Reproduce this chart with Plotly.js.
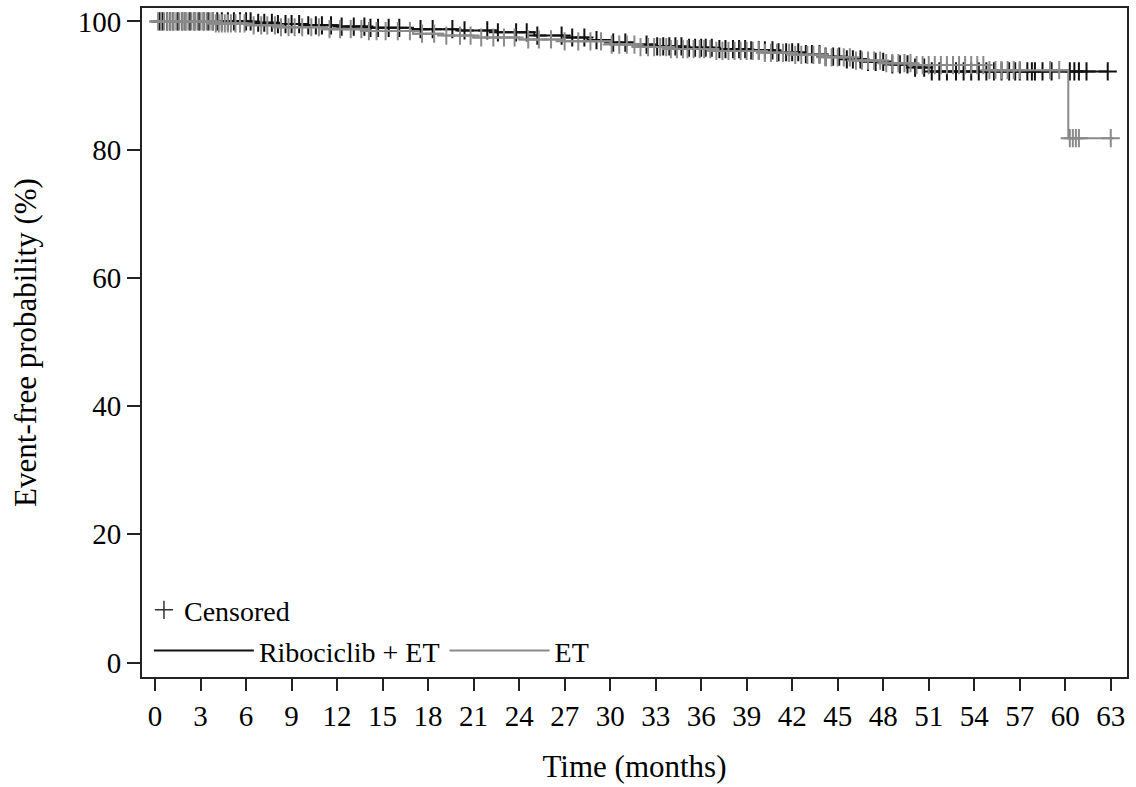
<!DOCTYPE html>
<html>
<head>
<meta charset="utf-8">
<script src="https://cdn.plot.ly/plotly-3.0.1.min.js"></script>
<style>
  html, body { margin: 0; padding: 0; background: #fff; }
  #chart { width: 1136px; height: 787px; }
</style>
</head>
<body>
<div id="chart"></div>
<script>
// Kaplan-Meier step data (time in months, event-free probability in %)
const riboTimes = [0, 6.5, 8, 10, 12, 14, 17, 20, 22.5, 25, 27, 28.5, 30, 31.5, 33, 35, 37, 39, 41, 42.5, 44, 45.5, 47, 48.5, 50, 51, 62.8];
const riboSurv  = [100, 99.8, 99.6, 99.4, 99.2, 99.0, 98.8, 98.6, 98.3, 97.8, 97.5, 97.1, 96.7, 96.4, 96.1, 95.9, 95.7, 95.5, 95.2, 94.9, 94.5, 94.1, 93.7, 93.3, 92.8, 92.2, 92.2];

const etTimes = [0, 4, 6, 8, 11, 14, 17, 19, 21, 24, 27, 30, 32, 34, 37, 40, 42, 44, 46, 48, 50, 55, 60.2, 63.2];
const etSurv  = [100, 99.7, 99.4, 99.1, 98.8, 98.5, 98.1, 97.8, 97.5, 97.2, 96.9, 96.4, 96.0, 95.7, 95.4, 95.1, 94.8, 94.4, 93.9, 93.5, 93.2, 92.4, 81.8, 81.8];

// Censoring times
const riboCensored = [0.3,0.5,0.8,1.0,1.2,1.5,1.8,2.0,2.3,2.6,2.9,3.2,3.5,3.8,4.1,4.4,4.8,5.2,5.6,6.0,6.3,6.8,7.2,7.7,8.1,8.6,9.0,9.5,10.1,10.6,11.0,11.6,12.3,13.1,13.8,14.2,14.7,15.4,16.1,17.5,18.3,19.6,20.4,21.9,22.6,23.8,24.5,25.2,26.8,27.5,28.3,29.1,30.2,31.0,32.4,33.1,33.5,33.9,34.3,34.7,35.2,35.6,36.0,36.3,36.7,37.2,37.6,38.1,38.5,38.9,39.3,39.8,40.2,40.7,41.1,41.6,42.0,42.4,42.9,43.3,43.8,44.2,44.7,45.1,45.6,46.0,46.5,47.0,47.5,48.0,48.6,49.1,49.6,50.1,50.7,51.2,51.7,52.2,52.8,53.3,53.8,54.3,54.8,55.3,55.8,56.3,56.7,57.0,57.5,57.8,58.0,58.5,59.1,60.3,60.6,60.9,61.4,62.8];
const etCensored = [0.2,0.4,0.6,0.8,1.0,1.2,1.4,1.6,1.8,2.0,2.2,2.4,2.6,2.8,3.0,3.2,3.4,3.6,3.8,4.0,4.2,4.4,4.6,4.8,5.0,5.3,5.6,5.9,6.5,7.0,7.4,7.9,8.3,8.8,9.2,9.7,10.3,10.8,11.5,12.2,12.9,13.6,14.1,14.6,15.2,16.0,16.8,17.6,18.4,19.2,20.1,20.8,21.5,22.3,23.0,23.7,24.6,25.3,26.1,27.0,27.9,28.7,29.4,30.1,30.6,31.1,31.6,32.0,32.5,32.9,33.3,33.7,34.0,34.4,34.8,35.1,35.5,35.9,36.2,36.6,37.0,37.4,37.8,38.2,38.6,39.0,39.4,39.8,40.2,40.6,41.0,41.4,41.8,42.2,42.6,43.0,43.4,43.8,44.2,44.6,45.0,45.4,45.8,46.2,46.6,47.0,47.4,47.8,48.2,48.6,49.0,49.4,49.8,50.2,50.6,51.0,51.4,51.8,52.2,52.6,53.0,53.4,53.8,54.2,54.6,55.0,55.4,55.8,56.2,56.6,57.0,59.0,59.6,60.3,60.5,60.7,60.9,63.0];

const xTicks = [0,3,6,9,12,15,18,21,24,27,30,33,36,39,42,45,48,51,54,57,60,63];
const yTicks = [0,20,40,60,80,100];

const seriesNames = ['Ribociclib + ET', 'ET'];
const censorLabel = 'Censored';

function stepValue(times, surv, t) {
  let v = surv[0];
  for (let i = 0; i < times.length; i++) { if (times[i] <= t) v = surv[i]; }
  return v;
}

const BLACK = '#111111';
const GRAY = '#8a8a8a';
const FONT = 'Liberation Serif, Times New Roman, serif';

const traces = [
  {
    x: riboTimes, y: riboSurv, type: 'scatter', mode: 'lines',
    line: { shape: 'hv', color: BLACK, width: 2 },
    name: seriesNames[0], legend: 'legend2', hoverinfo: 'skip'
  },
  {
    x: riboCensored, y: riboCensored.map(t => stepValue(riboTimes, riboSurv, t)),
    type: 'scatter', mode: 'markers', showlegend: false,
    marker: { symbol: 'cross-thin', size: 13, line: { color: BLACK, width: 2 } }
  },
  {
    x: etTimes, y: etSurv, type: 'scatter', mode: 'lines',
    line: { shape: 'hv', color: GRAY, width: 2 },
    name: seriesNames[1], legend: 'legend2', hoverinfo: 'skip'
  },
  {
    x: etCensored, y: etCensored.map(t => stepValue(etTimes, etSurv, t)),
    type: 'scatter', mode: 'markers', showlegend: false,
    marker: { symbol: 'cross-thin', size: 13, line: { color: GRAY, width: 2 } }
  },
  {
    x: [null], y: [null], type: 'scatter', mode: 'markers',
    name: censorLabel, legend: 'legend',
    marker: { symbol: 'cross-thin', size: 13, line: { color: '#333333', width: 1.5 } }
  }
];

const layout = {
  width: 1136, height: 787,
  margin: { l: 142, r: 9, t: 8, b: 110 },
  paper_bgcolor: '#ffffff', plot_bgcolor: '#ffffff',
  font: { family: FONT, size: 29, color: '#000' },
  showlegend: true,
  xaxis: {
    range: [-0.86, 64.07], tickvals: xTicks, ticktext: xTicks.map(String),
    ticks: 'outside', ticklen: 12, tickwidth: 2, tickcolor: '#222',
    showline: true, linecolor: '#222', linewidth: 2, mirror: true,
    showgrid: false, zeroline: false,
    tickfont: { family: FONT, size: 29, color: '#000' },
    title: { text: 'Time (months)', font: { family: FONT, size: 31, color: '#000' }, standoff: 25 }
  },
  yaxis: {
    range: [-2.26, 102.1], tickvals: yTicks, ticktext: yTicks.map(String),
    ticks: 'outside', ticklen: 13, tickwidth: 2, tickcolor: '#222',
    showline: true, linecolor: '#222', linewidth: 2, mirror: true,
    showgrid: false, zeroline: false,
    tickfont: { family: FONT, size: 29, color: '#000' },
    title: { text: 'Event-free probability (%)', font: { family: FONT, size: 31, color: '#000' }, standoff: 32 }
  },
  legend: {
    x: 0.002, y: 0.1, xanchor: 'left', yanchor: 'middle',
    orientation: 'h', bgcolor: 'rgba(0,0,0,0)', borderwidth: 0,
    font: { family: FONT, size: 28, color: '#000' }, itemwidth: 30
  },
  legend2: {
    x: 0.007, y: 0.039, xanchor: 'left', yanchor: 'middle',
    orientation: 'h', bgcolor: 'rgba(0,0,0,0)', borderwidth: 0,
    font: { family: FONT, size: 28, color: '#000' }, itemwidth: 100
  }
};

Plotly.newPlot('chart', traces, layout, { displayModeBar: false, staticPlot: true });
</script>
</body>
</html>
